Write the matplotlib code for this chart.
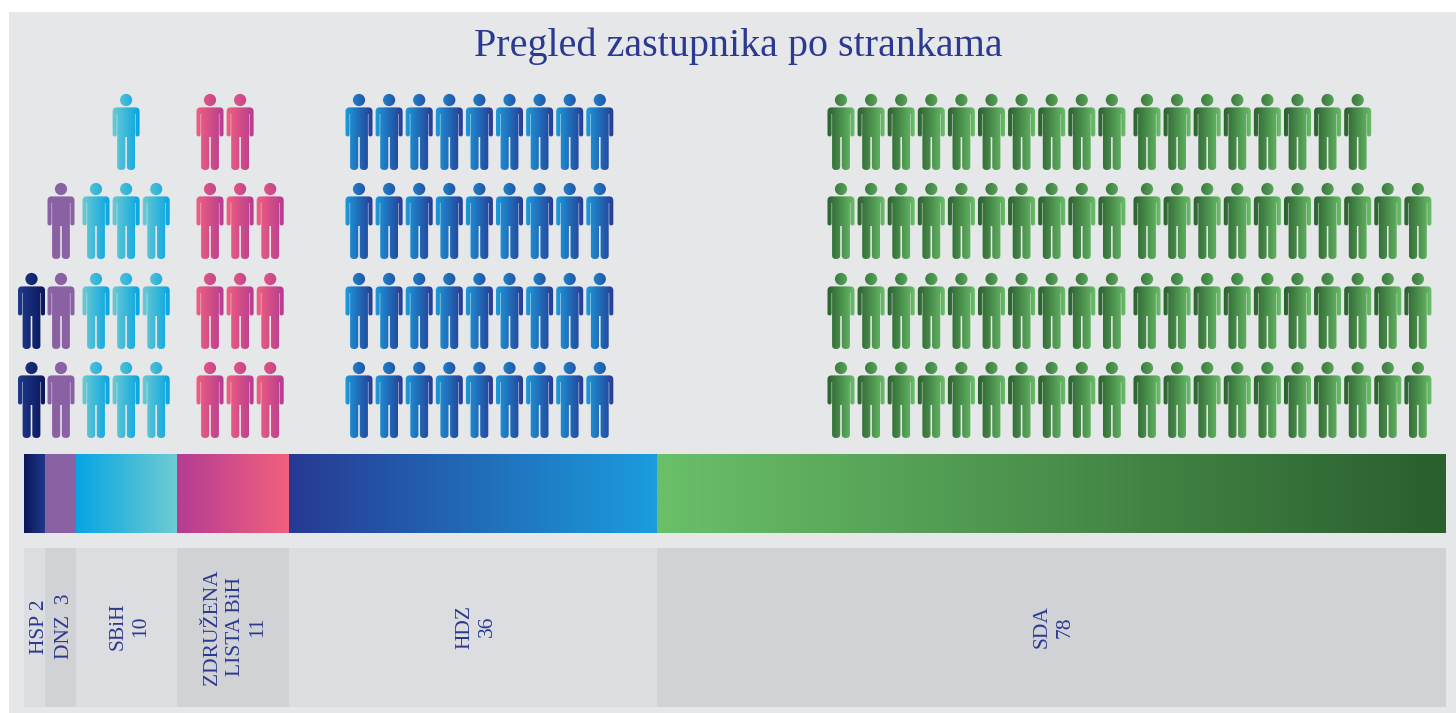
#!/usr/bin/env python3
"""Pregled zastupnika po strankama - pictogram rows over a gradient bar."""

import matplotlib
matplotlib.use('Agg')
import matplotlib.pyplot as plt
import numpy as np
from matplotlib.colors import to_rgb
from matplotlib.patches import PathPatch, Rectangle
from matplotlib.path import Path
from matplotlib.transforms import Affine2D

title = 'Pregled zastupnika po strankama'
party_labels = ['HSP 2', 'DNZ  3', 'SBiH\n10', 'ZDRUŽENA\nLISTA BiH\n11', 'HDZ\n36', 'SDA\n78']
seats = [2, 3, 10, 11, 36, 78]
# share of the bar (%)
bar_share = [1.48, 2.18, 7.10, 7.88, 25.88, 55.48]
grad_left = ['#0a1659', '#8a62a3', '#06a5e3', '#b43c92', '#273a93', '#6abf69']
grad_right = ['#1f3a8d', '#8a62a3', '#6ecbd2', '#f2607e', '#1b9cdc', '#2a5f2e']
panel_colors = ['#dcdde0', '#d1d2d5', '#dcdde0', '#d1d2d5', '#dcdde0', '#d1d2d5']

# icons per row, top row first
row_counts = [
    [0, 0, 1, 2, 9, 18],
    [0, 1, 3, 3, 9, 20],
    [1, 1, 3, 3, 9, 20],
    [1, 1, 3, 3, 9, 20],
]
# first icon column of each party and what the top row skips
first_x = [31.5, 61, 96, 210, 359, 841]
top_skip = [0, 0, 1, 0, 0, 0]
row_tops = [94, 183, 273, 362]
icon_step = 30.1
sda_gap = 5  # SDA has a small break after ten icons

ink = '#2b3990'
bg = '#e6e7e9'


def person_path():
    head = Path.circle((0, 6), 6.1)
    verts = [
        (-9.5, 13.4), (9.5, 13.4), (13.5, 13.4), (13.5, 17.5), (13.5, 40.5),
        (13.5, 42.4), (11.5, 42.4), (11, 42.4), (9.4, 42.4), (9.4, 40.5), (9.4, 20),
        (8.9, 20), (8.9, 72.5), (8.9, 76), (4.9, 76), (0.8, 76), (0.8, 72.5), (0.8, 43),
        (-0.8, 43), (-0.8, 72.5), (-0.8, 76), (-4.9, 76), (-8.9, 76), (-8.9, 72.5), (-8.9, 20),
        (-9.4, 20), (-9.4, 40.5), (-9.4, 42.4), (-11, 42.4), (-11.5, 42.4), (-13.5, 42.4),
        (-13.5, 40.5), (-13.5, 17.5), (-13.5, 13.4), (-9.5, 13.4), (-9.5, 13.4),
    ]
    L, C = Path.LINETO, Path.CURVE3
    codes = [Path.MOVETO, L, C, C, L, C, C, L, C, C, L, L, L, C, C, C, C, L, L, L,
             C, C, C, C, L, L, L, C, C, L, C, C, L, C, C, Path.CLOSEPOLY]
    return Path.make_compound_path(head, Path(verts, codes))


def gradient(c0, c1, n=64):
    c0, c1 = np.array(to_rgb(c0)), np.array(to_rgb(c1))
    return (c0 + (c1 - c0) * np.linspace(0, 1, n)[:, None])[None, :, :]


fig = plt.figure(figsize=(14.56, 7.13), dpi=100, facecolor='white')
ax = fig.add_axes([0, 0, 1, 1])
ax.axis('off')
ax.add_patch(Rectangle((9, 12), 1447, 701, facecolor=bg, edgecolor='none', zorder=0))
ax.text(738.5, 46.5, title, family='Liberation Serif', fontsize=28.9, color=ink, ha='center', va='center')

# icons: gradient runs the opposite way to the bar; a background mask with a
# person shaped hole gives smooth edges, clip paths come out jagged
frame = Path([(-15, -1), (-15, 77), (15, 77), (15, -1), (-15, -1)],
             [Path.MOVETO, Path.LINETO, Path.LINETO, Path.LINETO, Path.CLOSEPOLY])
mask = Path.make_compound_path(frame, person_path())
for p in range(len(seats)):
    grad = gradient(grad_right[p], grad_left[p])
    for row, top in zip(row_counts, row_tops):
        skip = top_skip[p] if row is row_counts[0] else 0
        for i in range(row[p]):
            x = first_x[p] + (i + skip) * icon_step
            if p == 5 and i >= 10:
                x += sda_gap
            ax.imshow(grad, extent=(x - 14, x + 14, top + 76.5, top - 0.5), aspect='auto',
                      interpolation='bilinear', zorder=2)
            ax.add_patch(PathPatch(mask.transformed(Affine2D().translate(x, top)),
                                   facecolor=bg, edgecolor='none', zorder=3))
ax.set_xlim(0, 1456)
ax.set_ylim(713, 0)

# bar and label panels use a 0-100 share axis
fig_w, fig_h = 1456, 713
bar_ax = fig.add_axes([24 / fig_w, 1 - 533 / fig_h, 1422 / fig_w, 79 / fig_h])
label_ax = fig.add_axes([24 / fig_w, 1 - 707 / fig_h, 1422 / fig_w, 159 / fig_h])
lefts = np.cumsum([0] + bar_share[:-1])
label_dx = [0.37, 0.3, 0.21, 0.14, 0.21, 0.14]
for p in range(len(seats)):
    left = lefts[p]
    w = bar_share[p]
    bars = bar_ax.bar(left, 1, width=w, align='edge', facecolor='none', edgecolor='none')
    im = bar_ax.imshow(gradient(grad_left[p], grad_right[p]), extent=(left, left + w, 0, 1),
                       aspect='auto', interpolation='bilinear')
    im.set_clip_path(bars[0])
    label_ax.bar(left, 1, width=w, align='edge', color=panel_colors[p])
    label_ax.text(left + w / 2 + label_dx[p], 0.505, party_labels[p], rotation=90, ha='center', va='center',
                  multialignment='center', family='Liberation Serif', fontsize=15.5, color=ink, linespacing=1.25)
for a in (bar_ax, label_ax):
    a.set_xlim(0, 100)
    a.set_ylim(0, 1)
    a.axis('off')

plt.savefig('out.png', dpi=100, facecolor='white')
plt.close()
